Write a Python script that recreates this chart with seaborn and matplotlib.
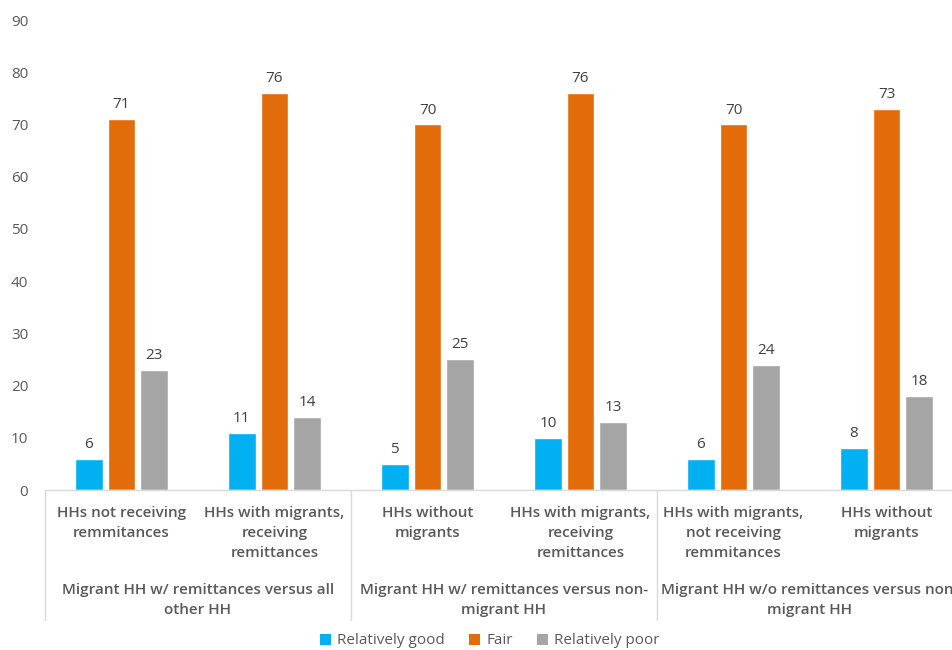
import numpy as np
import pandas as pd
import matplotlib
matplotlib.use("Agg")
import matplotlib.pyplot as plt
import seaborn as sns
from matplotlib.transforms import blended_transform_factory
from matplotlib.patches import Patch

categories = [
    "HHs not receiving\nremmitances",
    "HHs with migrants,\nreceiving\nremittances",
    "HHs without\nmigrants",
    "HHs with migrants,\nreceiving\nremittances",
    "HHs with migrants,\nnot receiving\nremmitances",
    "HHs without\nmigrants",
]
groups = [
    "Migrant HH w/ remittances versus all\nother HH",
    "Migrant HH w/ remittances versus non-\nmigrant HH",
    "Migrant HH w/o remittances versus non-\nmigrant HH",
]
series = ["Relatively good", "Fair", "Relatively poor"]
good = [6, 11, 5, 10, 6, 8]
fair = [71, 76, 70, 76, 70, 73]
poor = [23, 14, 25, 13, 24, 18]
colors = ["#00B0F0", "#E36C0A", "#A5A5A5"]

sns.set_theme(style="white")
plt.rcParams["font.family"] = ["Open Sans", "DejaVu Sans"]

keys = [f"c{i}" for i in range(len(categories))]
df = pd.DataFrame({
    "cat": keys * 3,
    "series": sum([[s] * len(keys) for s in series], []),
    "value": good + fair + poor,
})

fig = plt.figure(figsize=(9.53, 6.5), dpi=100)
ax = fig.add_axes([45 / 953, 160 / 650, 918 / 953, 470 / 650])
sns.barplot(data=df, x="cat", y="value", hue="series", order=keys,
            hue_order=series, palette=colors, width=0.64, gap=0.15,
            ax=ax, legend=False, saturation=1)

for cont in ax.containers:
    ax.bar_label(cont, padding=5, fontsize=11, color="#404040")

ax.set_ylim(0, 90)
ax.set_xlim(-0.5, len(categories) - 0.5)
ax.set_yticks(np.arange(0, 91, 10))
ax.tick_params(axis="y", length=0, pad=12, labelsize=11, labelcolor="#595959")
ax.set_xticks([])
ax.set_xlabel("")
ax.set_ylabel("")
for s in ["top", "right", "left"]:
    ax.spines[s].set_visible(False)
ax.spines["bottom"].set_color("#D9D9D9")
ax.spines["bottom"].set_linewidth(1)

trans = blended_transform_factory(ax.transData, ax.transAxes)
for i, c in enumerate(categories):
    ax.text(i, -0.033, c, transform=trans, ha="center", va="top",
            fontsize=11, fontweight="semibold", color="#595959",
            linespacing=1.55, clip_on=False)
for g, name in enumerate(groups):
    ax.text(2 * g + 0.5, -0.197, name, transform=trans, ha="center", va="top",
            fontsize=11, fontweight="semibold", color="#595959",
            linespacing=1.55, clip_on=False)
for xb in [-0.5, 1.5, 3.5]:
    ax.plot([xb, xb], [0, -0.277], transform=trans, color="#D9D9D9",
            lw=1, clip_on=False)

handles = [Patch(facecolor=c, edgecolor="none") for c in colors]
fig.legend(handles, series, loc="center", bbox_to_anchor=(0.514, 1 - 641 / 650),
           ncol=3, frameon=False, fontsize=11, handlelength=0.7, handleheight=0.7,
           handletextpad=0.4, columnspacing=1.6, labelcolor="#595959")

fig.savefig("out.png", dpi=100)
